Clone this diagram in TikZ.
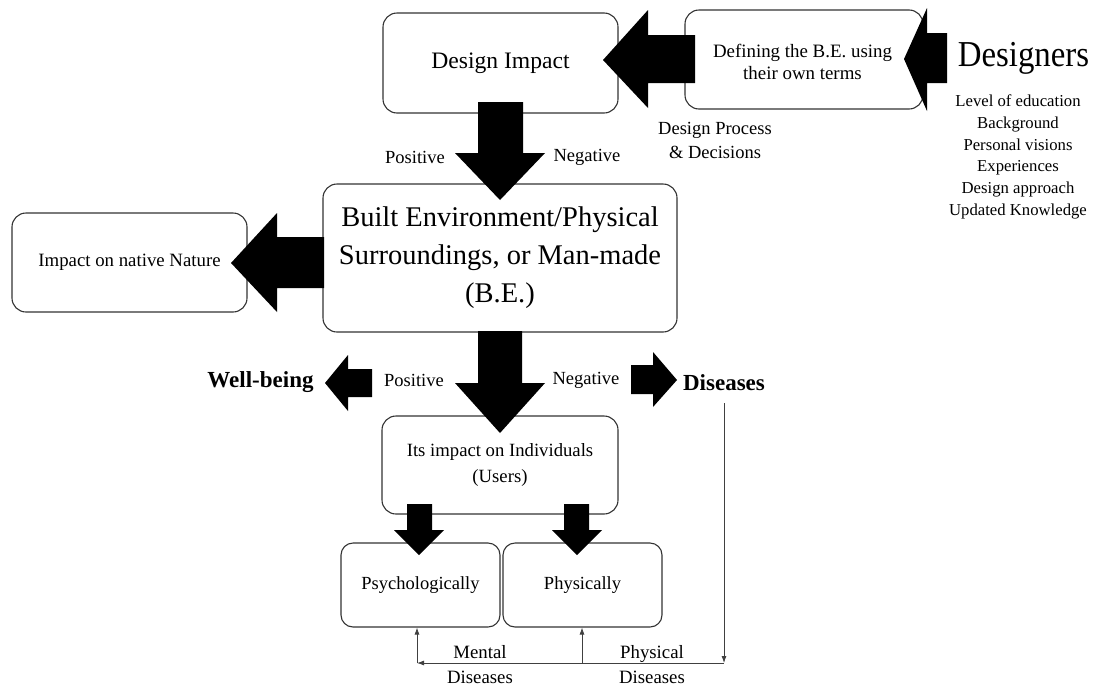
\documentclass[tikz,border=0pt]{standalone}
\usepackage{fontspec}
\setmainfont{Liberation Serif}
\newfontfamily\narrowserif[FakeStretch=0.9]{Liberation Serif}
\usetikzlibrary{arrows.meta}
\begin{document}
\begin{tikzpicture}[x=1pt,y=-1pt,
  box/.style={draw=black!80, line width=1.1pt, rounded corners=14pt, fill=white,
              inner sep=0pt, align=center, font=\fontsize{18.5}{26}\selectfont},
  lbl/.style={inner sep=0pt, align=center, font=\fontsize{18.5}{24}\selectfont},
  boldlbl/.style={inner sep=0pt, font=\fontsize{23}{28}\selectfont\bfseries},
  blk/.style={fill=black},
  conn/.style={draw=black!75, line width=0.8pt, -{Latex[length=7pt,width=5pt]}},
  wire/.style={draw=black!75, line width=0.8pt}
]
\useasboundingbox (0,0) rectangle (1094,686);

% boxes
\node[box, minimum width=235pt, minimum height=100pt, font=\fontsize{23.6}{28}\selectfont]
  (di) at (500.5,63) {Design Impact};
\node[box, minimum width=238pt, minimum height=99pt, font=\fontsize{18.9}{22}\selectfont]
  (def) at (804,59.5) {};
\node[lbl, font=\fontsize{18.9}{22}\selectfont] (deftxt) at (802.5,62) {Defining the B.E. using\\their own terms};
\node[box, minimum width=354pt, minimum height=148pt, font=\fontsize{28.5}{38}\selectfont]
  (be) at (500,258) {Built Environment/Physical\\Surroundings, or Man-made\\(B.E.)};
\node[box, minimum width=235pt, minimum height=99pt, font=\fontsize{18.8}{24}\selectfont]
  (nat) at (129.5,262.5) {Impact on native Nature};
\node[box, minimum width=236pt, minimum height=98pt, font=\fontsize{18.7}{26}\selectfont]
  (usr) at (500,465) {Its impact on Individuals\\(Users)};
\node[box, minimum width=159pt, minimum height=84pt, rounded corners=12pt]
  (psy) at (420.5,585) {Psychologically};
\node[box, minimum width=159pt, minimum height=84pt, rounded corners=12pt]
  (phy) at (582.5,585) {Physically};

% free texts
\node[inner sep=0pt, font=\narrowserif\fontsize{36.5}{40}\selectfont] (dsg) at (1023.5,58) {Designers};
\node[lbl, font=\fontsize{16.7}{21.7}\selectfont] (traits) at (1018,157)
  {Level of education\\Background\\Personal visions\\Experiences\\Design approach\\Updated Knowledge};
\node[lbl] (proc) at (715,140) {Design Process\\\& Decisions};
\node[lbl] (pos1) at (415,157) {Positive};
\node[lbl] (neg1) at (587,157) {Negative};
\node[lbl] (pos2) at (414,380) {Positive};
\node[lbl] (neg2) at (586,380) {Negative};
\node[boldlbl] (wb) at (260.5,382) {Well-being};
\node[boldlbl] (dis) at (724,383) {Diseases};
\node[lbl, font=\fontsize{18.8}{25}\selectfont] (ment) at (480,664.5) {Mental\\Diseases};
\node[lbl, font=\fontsize{18.8}{25}\selectfont] (phys) at (652,664.5) {Physical\\Diseases};

% block arrows
\fill[blk] (478,102) -- (523,102) -- (523,153) -- (545,153) -- (500,200) -- (455,153) -- (478,153) -- cycle;
\fill[blk] (695,35) -- (648,35) -- (648,10) -- (603,60) -- (648,108) -- (648,83) -- (695,83) -- cycle;
\fill[blk] (947,33) -- (927,33) -- (927,8) -- (904,59) -- (927,111) -- (927,83) -- (947,83) -- cycle;
\fill[blk] (324,237) -- (277,237) -- (277,213) -- (231,263) -- (277,312) -- (277,288) -- (324,288) -- cycle;
\fill[blk] (478,331) -- (522,331) -- (522,383) -- (545,383) -- (500,433) -- (455,383) -- (478,383) -- cycle;
\fill[blk] (372,369) -- (348,369) -- (348,355) -- (325,383) -- (348,411) -- (348,397) -- (372,397) -- cycle;
\fill[blk] (631,365) -- (653,365) -- (653,352) -- (677,380) -- (653,407) -- (653,394) -- (631,394) -- cycle;
\fill[blk] (407,504) -- (432,504) -- (432,530) -- (444,530) -- (419,555) -- (394,530) -- (407,530) -- cycle;
\fill[blk] (564,504) -- (589,504) -- (589,530) -- (602,530) -- (577,555) -- (552,530) -- (564,530) -- cycle;

% disease feedback connectors
\coordinate (turn) at (723,663);
\coordinate (mfoot) at (417,663);
\coordinate (pfoot) at (582,663);
\draw[conn, shorten <=12pt] (dis.south) -- (dis.south |- turn);
\draw[conn] (dis.south |- turn) -- (mfoot);
\draw[conn] (mfoot) -- (psy.south -| mfoot);
\draw[conn] (pfoot) -- (phy.south -| pfoot);
\end{tikzpicture}
\end{document}
